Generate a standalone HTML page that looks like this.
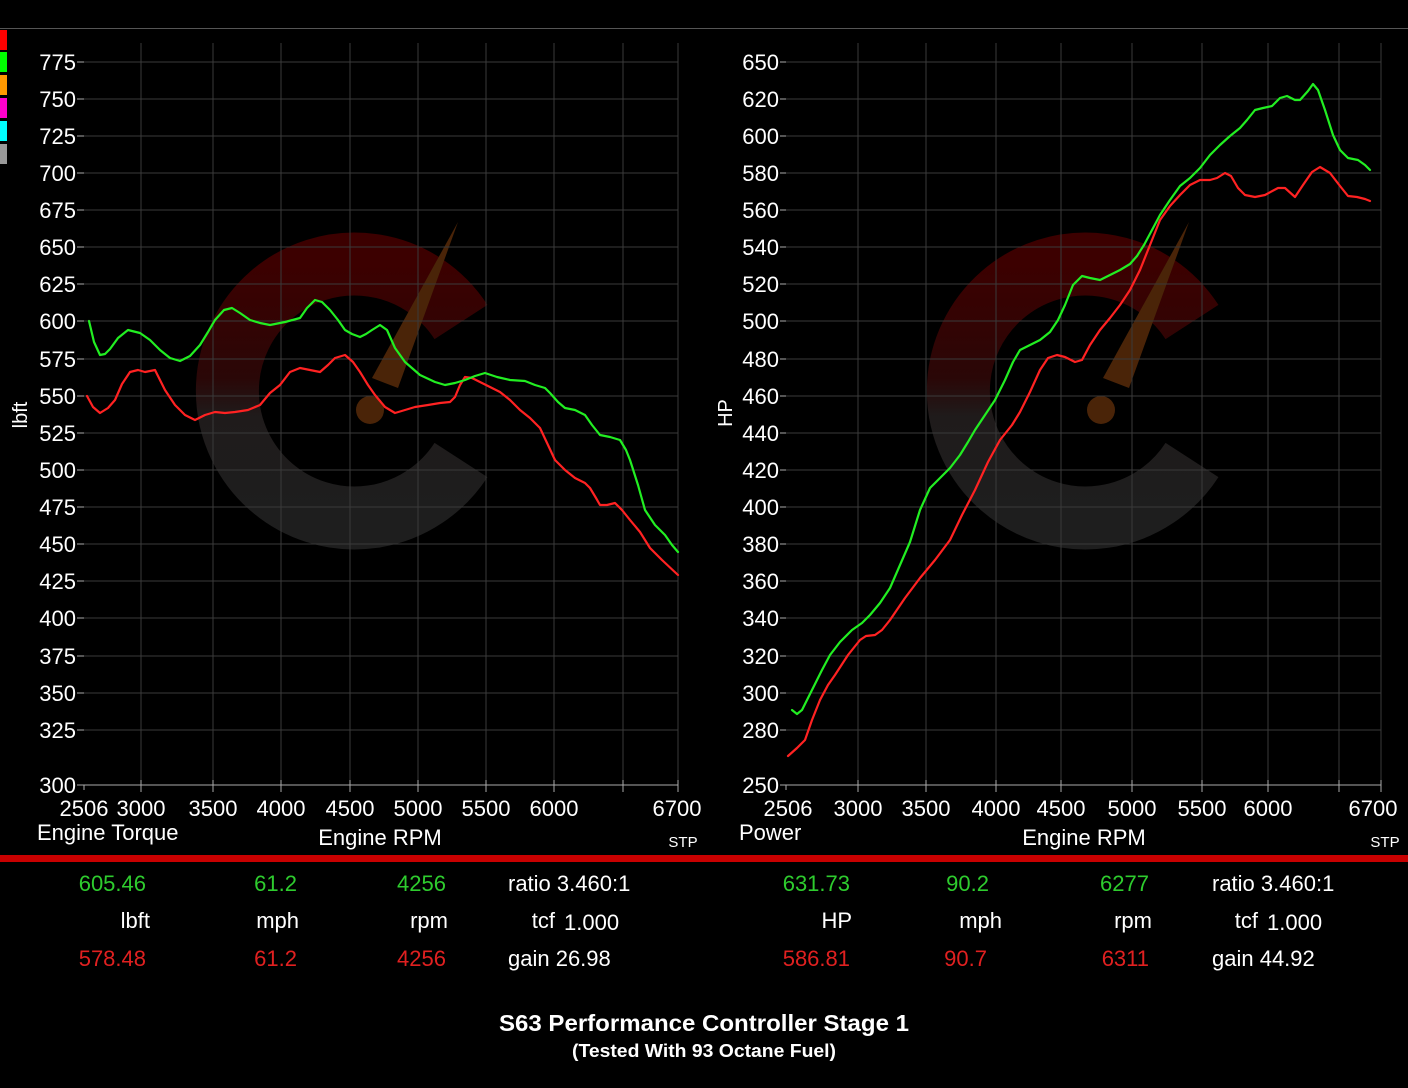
<!DOCTYPE html>
<html><head><meta charset="utf-8"><style>
html,body{margin:0;padding:0;background:#000;width:1408px;height:1088px;overflow:hidden}
svg{display:block}
text{font-family:"Liberation Sans",sans-serif;fill:#fff}
</style></head><body>
<svg width="1408" height="1088" viewBox="0 0 1408 1088">
<defs>
<linearGradient id="cg" x1="0" y1="0" x2="0" y2="1">
<stop offset="0" stop-color="#3c0000"/><stop offset="0.45" stop-color="#2a0707"/><stop offset="0.6" stop-color="#1f1b1b"/><stop offset="1" stop-color="#1e1e1e"/>
</linearGradient>
</defs>
<rect width="1408" height="1088" fill="#000"/>
<line x1="0" y1="28.5" x2="1408" y2="28.5" stroke="#555" stroke-width="1"/>
<rect x="0" y="30" width="7" height="20" fill="#f00"/>
<rect x="0" y="52" width="7" height="20" fill="#0f0"/>
<rect x="0" y="75" width="7" height="20" fill="#f90"/>
<rect x="0" y="98" width="7" height="20" fill="#f0c"/>
<rect x="0" y="121" width="7" height="20" fill="#0ff"/>
<rect x="0" y="144" width="7" height="20" fill="#999"/>

<!-- watermarks -->
<g id="wm">
<path d="M 461 322 A 127 127 0 1 0 461 460" fill="none" stroke="url(#cg)" stroke-width="63"/>
<polygon points="458,222 398,388 372,378" fill="#4a2408"/>
<circle cx="370" cy="410" r="14" fill="#4a2408"/>
</g>
<use href="#wm" x="731" y="0"/>

<!-- grids -->
<g stroke="#3a3a3a" stroke-width="1">
<path d="M84 62H678M84 99H678M84 136H678M84 173H678M84 210H678M84 247H678M84 284H678M84 321H678M84 359H678M84 396H678M84 433H678M84 470H678M84 507H678M84 544H678M84 581H678M84 618H678M84 656H678M84 693H678M84 730H678"/>
<path d="M141 43V785M213 43V785M281 43V785M350 43V785M418 43V785M486 43V785M554 43V785M623 43V785M678 43V785"/>
<path d="M786 62H1381M786 99H1381M786 136H1381M786 173H1381M786 210H1381M786 247H1381M786 284H1381M786 321H1381M786 359H1381M786 396H1381M786 433H1381M786 470H1381M786 507H1381M786 544H1381M786 581H1381M786 618H1381M786 656H1381M786 693H1381M786 730H1381"/>
<path d="M858 43V785M926 43V785M996 43V785M1061 43V785M1132 43V785M1202 43V785M1268 43V785M1339 43V785M1381 43V785"/>
</g>
<g stroke="#aaa" stroke-width="1">
<path d="M84 785H678M84 785V790M786 785H1381M786 785V790"/>
<path d="M141 780V792M213 780V792M281 780V792M350 780V792M418 780V792M486 780V792M554 780V792M623 780V792M678 780V792"/>
<path d="M858 780V792M926 780V792M996 780V792M1061 780V792M1132 780V792M1202 780V792M1268 780V792M1339 780V792M1381 780V792"/>
<path d="M77 62H84M77 99H84M77 136H84M77 173H84M77 210H84M77 247H84M77 284H84M77 321H84M77 359H84M77 396H84M77 433H84M77 470H84M77 507H84M77 544H84M77 581H84M77 618H84M77 656H84M77 693H84M77 730H84M77 785H84"/>
<path d="M780 62H786M780 99H786M780 136H786M780 173H786M780 210H786M780 247H786M780 284H786M780 321H786M780 359H786M780 396H786M780 433H786M780 470H786M780 507H786M780 544H786M780 581H786M780 618H786M780 656H786M780 693H786M780 730H786M780 785H786"/>
</g>

<!-- y labels -->
<g font-size="22" text-anchor="end">
<text x="76" y="70">775</text><text x="76" y="107">750</text><text x="76" y="144">725</text><text x="76" y="181">700</text><text x="76" y="218">675</text><text x="76" y="255">650</text><text x="76" y="292">625</text><text x="76" y="329">600</text><text x="76" y="367">575</text><text x="76" y="404">550</text><text x="76" y="441">525</text><text x="76" y="478">500</text><text x="76" y="515">475</text><text x="76" y="552">450</text><text x="76" y="589">425</text><text x="76" y="626">400</text><text x="76" y="664">375</text><text x="76" y="701">350</text><text x="76" y="738">325</text><text x="76" y="793">300</text>
<text x="779" y="70">650</text><text x="779" y="107">620</text><text x="779" y="144">600</text><text x="779" y="181">580</text><text x="779" y="218">560</text><text x="779" y="255">540</text><text x="779" y="292">520</text><text x="779" y="329">500</text><text x="779" y="367">480</text><text x="779" y="404">460</text><text x="779" y="441">440</text><text x="779" y="478">420</text><text x="779" y="515">400</text><text x="779" y="552">380</text><text x="779" y="589">360</text><text x="779" y="626">340</text><text x="779" y="664">320</text><text x="779" y="701">300</text><text x="779" y="738">280</text><text x="779" y="793">250</text>
</g>
<!-- x labels -->
<g font-size="22" text-anchor="middle">
<text x="84" y="816">2506</text><text x="141" y="816">3000</text><text x="213" y="816">3500</text><text x="281" y="816">4000</text><text x="350" y="816">4500</text><text x="418" y="816">5000</text><text x="486" y="816">5500</text><text x="554" y="816">6000</text><text x="677" y="816">6700</text>
<text x="788" y="816">2506</text><text x="858" y="816">3000</text><text x="926" y="816">3500</text><text x="996" y="816">4000</text><text x="1061" y="816">4500</text><text x="1132" y="816">5000</text><text x="1202" y="816">5500</text><text x="1268" y="816">6000</text><text x="1373" y="816">6700</text>
<text x="380" y="845">Engine RPM</text><text x="1084" y="845">Engine RPM</text>
</g>
<text x="37" y="840" font-size="22">Engine Torque</text>
<text x="739" y="840" font-size="22">Power</text>
<text x="683" y="847" font-size="15" text-anchor="middle">STP</text>
<text x="1385" y="847" font-size="15" text-anchor="middle">STP</text>
<text transform="translate(27,415) rotate(-90)" font-size="20" text-anchor="middle">lbft</text>
<text transform="translate(732,413) rotate(-90)" font-size="20" text-anchor="middle">HP</text>

<!-- curves -->
<g fill="none" stroke-width="2.2" stroke-linejoin="round" stroke-linecap="round">
<polyline stroke="#f22" points="87,396 93,407 100,413 108,408 115,400 122,384 130,372 138,370 145,372 155,370 165,390 175,405 185,415 195,420 205,415 215,412 225,413 235,412 248,410 260,405 270,393 280,385 290,372 300,368 310,370 320,372 328,365 335,358 345,355 353,362 360,372 368,385 375,395 385,407 395,413 405,410 415,407 428,405 440,403 450,402 455,397 460,385 465,377 472,378 480,382 490,387 500,392 510,400 520,410 530,418 540,428 548,445 555,460 565,470 575,478 585,483 590,488 596,498 600,505 607,505 615,503 622,510 630,520 640,532 650,548 662,560 678,575"/>
<polyline stroke="#2e2" points="89,321 94,342 100,355 105,354 110,349 118,338 128,330 140,333 150,340 160,350 170,358 180,361 190,356 200,345 208,332 215,320 224,310 232,308 240,313 250,320 260,323 270,325 285,322 300,318 307,308 315,300 322,302 330,310 338,320 345,330 352,334 360,337 366,334 372,330 380,325 387,330 395,348 405,362 420,375 435,382 445,385 455,383 465,380 475,376 485,373 497,377 510,380 525,381 535,385 545,388 550,393 558,402 565,408 575,410 585,415 592,425 600,435 610,437 620,440 626,450 630,460 638,485 645,510 655,525 665,535 672,545 678,552"/>
<polyline stroke="#f22" points="788,756 797,748 805,740 812,720 820,700 828,685 835,675 848,655 860,640 866,636 875,635 882,630 890,620 905,598 920,578 935,560 950,540 962,515 975,490 988,462 1000,440 1012,425 1020,412 1030,392 1040,370 1048,358 1057,355 1065,357 1075,362 1082,360 1090,345 1100,330 1110,318 1120,305 1130,290 1140,270 1150,245 1160,220 1170,206 1180,195 1190,185 1200,180 1210,180 1217,178 1225,173 1231,176 1238,188 1245,195 1255,197 1265,195 1278,188 1285,188 1295,197 1303,185 1312,172 1320,167 1330,173 1340,186 1348,196 1357,197 1365,199 1370,201"/>
<polyline stroke="#2e2" points="792,710 797,714 802,710 812,690 822,670 830,655 840,642 852,630 862,623 870,615 880,603 890,588 900,565 910,542 920,510 930,488 940,478 950,468 960,455 968,442 975,430 985,415 995,400 1005,380 1013,362 1020,350 1030,345 1040,340 1050,332 1058,320 1065,305 1073,285 1082,276 1090,278 1100,280 1110,275 1120,270 1130,264 1137,256 1144,245 1152,230 1160,215 1170,200 1180,186 1190,178 1200,168 1210,155 1220,145 1230,136 1240,128 1247,120 1255,110 1263,108 1272,106 1280,98 1287,96 1295,100 1300,100 1308,91 1313,84 1318,90 1325,110 1333,135 1340,150 1348,158 1358,160 1365,165 1370,170"/>
</g>

<rect x="0" y="855" width="1408" height="7" fill="#c80000"/>

<!-- stats -->
<g font-size="22" text-anchor="end">
<text x="146" y="891" style="fill:#2ecc2e">605.46</text>
<text x="297" y="891" style="fill:#2ecc2e">61.2</text>
<text x="446" y="891" style="fill:#2ecc2e">4256</text>
<text x="150" y="928">lbft</text>
<text x="299" y="928">mph</text>
<text x="448" y="928">rpm</text>
<text x="146" y="966" style="fill:#e02020">578.48</text>
<text x="297" y="966" style="fill:#e02020">61.2</text>
<text x="446" y="966" style="fill:#e02020">4256</text>
<text x="850" y="891" style="fill:#2ecc2e">631.73</text>
<text x="989" y="891" style="fill:#2ecc2e">90.2</text>
<text x="1149" y="891" style="fill:#2ecc2e">6277</text>
<text x="852" y="928">HP</text>
<text x="1002" y="928">mph</text>
<text x="1152" y="928">rpm</text>
<text x="850" y="966" style="fill:#e02020">586.81</text>
<text x="987" y="966" style="fill:#e02020">90.7</text>
<text x="1149" y="966" style="fill:#e02020">6311</text>
<text x="555" y="928">tcf</text><text x="1258" y="928">tcf</text>
</g>
<g font-size="22">
<text x="508" y="891">ratio 3.460:1</text>
<text x="564" y="930">1.000</text>
<text x="508" y="966">gain 26.98</text>
<text x="1212" y="891">ratio 3.460:1</text>
<text x="1267" y="930">1.000</text>
<text x="1212" y="966">gain 44.92</text>
</g>
<text x="704" y="1031" font-size="23" font-weight="bold" text-anchor="middle" textLength="410" lengthAdjust="spacingAndGlyphs">S63 Performance Controller Stage 1</text>
<text x="704" y="1057" font-size="18" font-weight="bold" text-anchor="middle" textLength="264" lengthAdjust="spacingAndGlyphs">(Tested With 93 Octane Fuel)</text>
</svg>
</body></html>
